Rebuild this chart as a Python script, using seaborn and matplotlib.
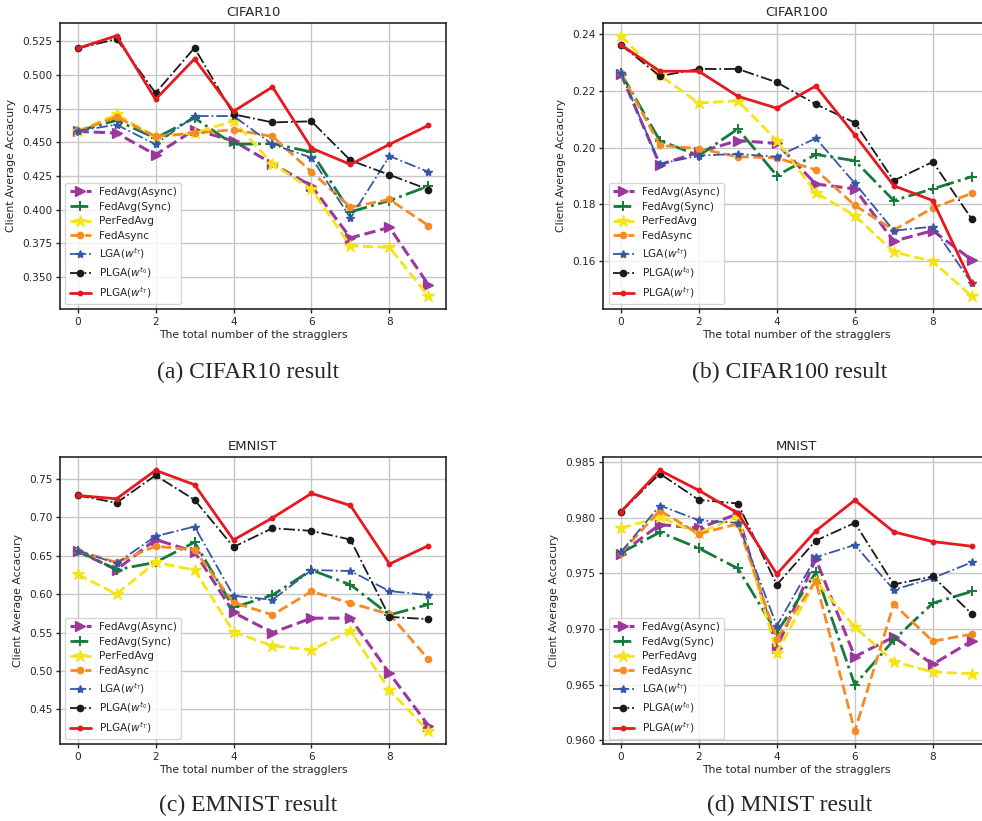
import matplotlib
matplotlib.use("Agg")
import matplotlib.pyplot as plt
import seaborn as sns
import pandas as pd

# ---------------- data ----------------
stragglers = list(range(10))
x_ticks = [0, 2, 4, 6, 8]

series_labels = [
    "FedAvg(Async)", "FedAvg(Sync)", "PerFedAvg", "FedAsync",
    r"LGA($w^{t_T}$)", r"PLGA($w^{t_0}$)", r"PLGA($w^{t_T}$)",
]

panel_titles = ["CIFAR10", "CIFAR100", "EMNIST", "MNIST"]
panel_captions = ["(a) CIFAR10 result", "(b) CIFAR100 result",
                  "(c) EMNIST result", "(d) MNIST result"]

cifar10_fedavg_async = [0.458, 0.4568, 0.4407, 0.4593, 0.4509, 0.434, 0.4176, 0.379, 0.3868, 0.3442]
cifar10_fedavg_sync = [0.4583, 0.4662, 0.453, 0.468, 0.4484, 0.449, 0.4427, 0.3983, 0.4067, 0.4174]
cifar10_perfedavg = [0.458, 0.4707, 0.454, 0.4568, 0.4658, 0.434, 0.415, 0.373, 0.372, 0.3357]
cifar10_fedasync = [0.458, 0.4687, 0.4543, 0.4568, 0.4593, 0.4543, 0.428, 0.4018, 0.4075, 0.3881]
cifar10_lga = [0.4583, 0.463, 0.4484, 0.4694, 0.4694, 0.4484, 0.4385, 0.3938, 0.4397, 0.428]
cifar10_plga_t0 = [0.5196, 0.5265, 0.4865, 0.520, 0.4707, 0.4647, 0.4655, 0.4365, 0.4258, 0.4149]
cifar10_plga_tT = [0.5196, 0.529, 0.4818, 0.5118, 0.4729, 0.491, 0.4456, 0.4335, 0.4484, 0.4625]

cifar100_fedavg_async = [0.226, 0.194, 0.1984, 0.2025, 0.2015, 0.1872, 0.1855, 0.1671, 0.1708, 0.1605]
cifar100_fedavg_sync = [0.2263, 0.2025, 0.1972, 0.2066, 0.1902, 0.1976, 0.1954, 0.1814, 0.1855, 0.1898]
cifar100_perfedavg = [0.2394, 0.2255, 0.2157, 0.2165, 0.2025, 0.1842, 0.1761, 0.1633, 0.160, 0.1477]
cifar100_fedasync = [0.2263, 0.2008, 0.1997, 0.1968, 0.1964, 0.1922, 0.1797, 0.171, 0.1788, 0.1839]
cifar100_lga = [0.2263, 0.1943, 0.1972, 0.1978, 0.1968, 0.2033, 0.1875, 0.1708, 0.1722, 0.1523]
cifar100_plga_t0 = [0.2362, 0.2252, 0.2277, 0.2277, 0.223, 0.2153, 0.2088, 0.1884, 0.195, 0.1749]
cifar100_plga_tT = [0.2362, 0.2269, 0.2269, 0.2181, 0.2139, 0.2217, 0.2045, 0.1866, 0.1814, 0.1523]

emnist_fedavg_async = [0.6557, 0.6317, 0.6709, 0.6552, 0.5761, 0.550, 0.5687, 0.5687, 0.497, 0.4291]
emnist_fedavg_sync = [0.6565, 0.6317, 0.6413, 0.6674, 0.5826, 0.5987, 0.6313, 0.6122, 0.573, 0.5865]
emnist_perfedavg = [0.6257, 0.600, 0.6413, 0.6313, 0.5509, 0.5326, 0.5274, 0.5522, 0.4752, 0.4217]
emnist_fedasync = [0.6565, 0.6413, 0.6622, 0.6574, 0.5891, 0.573, 0.6035, 0.5883, 0.5739, 0.5152]
emnist_lga = [0.6565, 0.640, 0.6752, 0.6878, 0.5978, 0.5926, 0.6313, 0.630, 0.6039, 0.5987]
emnist_plga_t0 = [0.7283, 0.7187, 0.7543, 0.7226, 0.6613, 0.6857, 0.6822, 0.6709, 0.5704, 0.5674]
emnist_plga_tT = [0.7283, 0.7239, 0.7609, 0.7422, 0.6704, 0.6991, 0.7309, 0.7152, 0.6391, 0.663]

mnist_fedavg_async = [0.97677, 0.97938, 0.97905, 0.98034, 0.96832, 0.97629, 0.96751, 0.96928, 0.96682, 0.96892]
mnist_fedavg_sync = [0.97683, 0.97869, 0.97725, 0.97544, 0.96968, 0.97508, 0.96499, 0.96901, 0.97232, 0.97337]
mnist_perfedavg = [0.97905, 0.98004, 0.9786, 0.9801, 0.96787, 0.97433, 0.97019, 0.96706, 0.96613, 0.96598]
mnist_fedasync = [0.97683, 0.98064, 0.97854, 0.97944, 0.96913, 0.97433, 0.96081, 0.97223, 0.9689, 0.96953]
mnist_lga = [0.97689, 0.98109, 0.97977, 0.97953, 0.97028, 0.97644, 0.97755, 0.97352, 0.97457, 0.97599]
mnist_plga_t0 = [0.98052, 0.98395, 0.9816, 0.98127, 0.97397, 0.97794, 0.97953, 0.974, 0.97472, 0.97136]
mnist_plga_tT = [0.98052, 0.98425, 0.98245, 0.9804, 0.97493, 0.97881, 0.98157, 0.97872, 0.97785, 0.97743]

panel_series = [
    [cifar10_fedavg_async, cifar10_fedavg_sync, cifar10_perfedavg, cifar10_fedasync,
     cifar10_lga, cifar10_plga_t0, cifar10_plga_tT],
    [cifar100_fedavg_async, cifar100_fedavg_sync, cifar100_perfedavg, cifar100_fedasync,
     cifar100_lga, cifar100_plga_t0, cifar100_plga_tT],
    [emnist_fedavg_async, emnist_fedavg_sync, emnist_perfedavg, emnist_fedasync,
     emnist_lga, emnist_plga_t0, emnist_plga_tT],
    [mnist_fedavg_async, mnist_fedavg_sync, mnist_perfedavg, mnist_fedasync,
     mnist_lga, mnist_plga_t0, mnist_plga_tT],
]

# ---------------- styling ----------------
def style(color, ls, lw, marker, ms, mew=1.0):
    return dict(color=color, linestyle=ls, linewidth=lw, marker=marker,
                markersize=ms, markeredgecolor=color, markerfacecolor=color,
                markeredgewidth=mew)

line_styles = [
    style("#9c379e", "--", 2.2, ">", 7.5),
    style("#177a3a", "-.", 2.0, "+", 7, 1.4),
    style("#f5e415", "--", 2.0, "*", 9),
    style("#f58b25", "--", 2.0, "o", 4.5),
    style("#3656a8", "-.", 1.3, "*", 6),
    style("#1a1a1a", "-.", 1.3, "o", 4.5),
    style("#e5191f", "-", 2.0, "o", 3.2),
]

sns.set_style("whitegrid", {
    "axes.edgecolor": "0.15",
    "grid.color": "0.78",
    "xtick.bottom": True,
    "ytick.left": True,
})
plt.rcParams["font.family"] = ["DejaVu Sans"]
plt.rcParams["axes.linewidth"] = 1.2
plt.rcParams["grid.linewidth"] = 1.0

W, H = 982, 821
fig = plt.figure(figsize=(W / 100, H / 100), dpi=100)

# axes boxes in pixels: left, top, width, height
boxes = [
    (60, 22.7, 386, 286.6),
    (603.3, 22.7, 386, 286.6),
    (60, 457.3, 386, 287.0),
    (603.3, 457.3, 386, 287.0),
]
caption_pos = [(248, 372), (790, 372), (248, 805), (790, 805)]

for k in range(4):
    left, top, w, h = boxes[k]
    ax = fig.add_axes([left / W, 1 - (top + h) / H, w / W, h / H])
    for vals, lab, st in zip(panel_series[k], series_labels, line_styles):
        df = pd.DataFrame({"stragglers": stragglers, "acc": vals})
        sns.lineplot(data=df, x="stragglers", y="acc", ax=ax, label=lab,
                     errorbar=None, **st)
    ax.set_xticks(x_ticks)
    ax.set_title(panel_titles[k], fontsize=9.5, pad=5)
    ax.set_xlabel("The total number of the stragglers", fontsize=7.8, labelpad=2)
    ax.set_ylabel("Client Average Accacury", fontsize=7.8, labelpad=4.5)
    ax.tick_params(axis="both", labelsize=7.6, length=3, width=1.0, pad=2.5, colors="0.15")
    ax.legend(loc="lower left", fontsize=7.6, frameon=True, framealpha=0.8,
              edgecolor="0.8", fancybox=True, labelspacing=0.45,
              borderpad=0.4, handlelength=2.0)
    cx, cy = caption_pos[k]
    fig.text(cx / W, 1 - cy / H, panel_captions[k], ha="center", va="center",
             fontsize=17, family=["Liberation Serif", "DejaVu Serif"])

fig.savefig("out.png", dpi=100)
